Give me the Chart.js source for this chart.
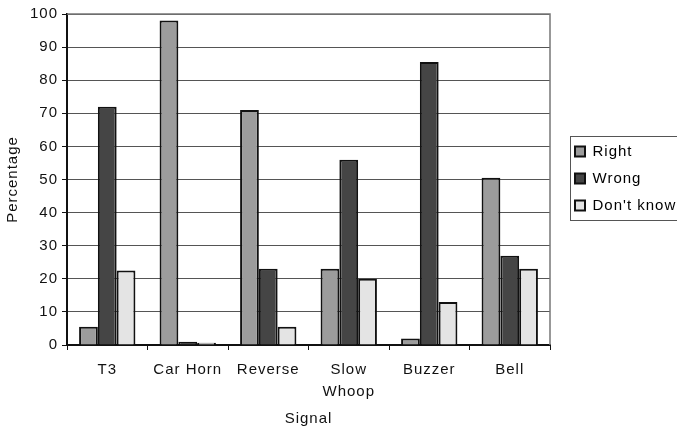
<!DOCTYPE html>
<html>
<head>
<meta charset="utf-8">
<script src="https://cdn.jsdelivr.net/npm/chart.js@4/dist/chart.umd.min.js"></script>
<style>
html,body{margin:0;padding:0;background:#fff;}
#c{display:block;}
</style>
</head>
<body>
<canvas id="c" width="677" height="433"></canvas>
<script>
const categories = ['T3', 'Car Horn', 'Reverse', ['Slow', 'Whoop'], 'Buzzer', 'Bell'];
const seriesNames = ['Right', 'Wrong', "Don't know"];
const rightValues = [5.5, 98, 71, 23, 2, 50.5];
const wrongValues = [72, 1, 23, 56, 85.5, 27];
const dontKnowValues = [22.5, 0.7, 5.5, 20, 13, 23];
const yTicks = [0, 10, 20, 30, 40, 50, 60, 70, 80, 90, 100];

const FONT = 'Liberation Sans, Arial, sans-serif';

const spacing = {
  id: 'spacing',
  beforeUpdate(chart) { chart.ctx.letterSpacing = '1px'; },
  beforeDraw(chart) { chart.ctx.letterSpacing = '1px'; }
};

const legendPlace = {
  id: 'legendPlace',
  beforeLayout(chart) {
    const lg = chart.legend;
    if (lg && !lg.__wrapped) {
      const orig = lg.fit;
      lg.fit = function () { orig.call(this); this.width = 127; };
      lg.__wrapped = true;
    }
  },
  afterLayout(chart) {
    const lg = chart.legend;
    if (!lg) return;
    lg.left = 563; lg.right = 677; lg.width = 114;
    lg.top = 132; lg.bottom = 433; lg.height = 301;
  }
};

const frame = {
  id: 'frame',
  afterDatasetsDraw(chart) {
    const {ctx, chartArea: a} = chart;
    ctx.save();
    ctx.strokeStyle = '#777';
    ctx.lineWidth = 1.5;
    ctx.beginPath();
    ctx.moveTo(a.left, a.top);
    ctx.lineTo(a.right, a.top);
    ctx.lineTo(a.right, a.bottom);
    ctx.stroke();
    ctx.restore();
  },
  afterDraw(chart) {
    const lg = chart.legend;
    if (!lg) return;
    const ctx = chart.ctx;
    ctx.save();
    ctx.strokeStyle = '#555';
    ctx.lineWidth = 1;
    ctx.strokeRect(lg.left + 7.5, 136.5, 200, 84);
    ctx.restore();
  }
};

new Chart(document.getElementById('c'), {
  type: 'bar',
  data: {
    labels: categories,
    datasets: [
      {label: seriesNames[0], data: rightValues, backgroundColor: '#9c9c9c', borderColor: '#111', borderWidth: 2},
      {label: seriesNames[1], data: wrongValues, backgroundColor: '#454545', borderColor: '#111', borderWidth: 2},
      {label: seriesNames[2], data: dontKnowValues, backgroundColor: '#e4e4e4', borderColor: '#111', borderWidth: 2}
    ]
  },
  options: {
    responsive: false,
    animation: false,
    devicePixelRatio: 1,
    layout: {padding: {top: 14, right: 0, bottom: 5, left: 4}},
    datasets: {bar: {categoryPercentage: 0.7, barPercentage: 1.0}},
    plugins: {
      tooltip: {enabled: false},
      legend: {
        position: 'right',
        align: 'start',
        labels: {
          color: '#111',
          font: {family: FONT, size: 15},
          boxWidth: 10,
          boxHeight: 10,
          padding: 12,
          generateLabels(chart) {
            return chart.data.datasets.map((ds, i) => ({
              text: ds.label, fillStyle: ds.backgroundColor, strokeStyle: '#111', lineWidth: 2, datasetIndex: i, hidden: false
            }));
          }
        }
      }
    },
    scales: {
      x: {
        grid: {display: true, drawOnChartArea: false, drawTicks: true, tickLength: 5, color: '#111', offset: true},
        border: {display: true, color: '#111', width: 2},
        ticks: {color: '#111', font: {family: FONT, size: 15, lineHeight: 1.45}, padding: 9, maxRotation: 0, autoSkip: false},
        title: {display: true, text: 'Signal', color: '#111', font: {family: FONT, size: 15}, padding: {top: 4, bottom: 0}},
        afterFit(s) { s.height = 83; }
      },
      y: {
        min: 0, max: 100,
        afterBuildTicks(s) { s.ticks = yTicks.map(v => ({value: v})); },
        grid: {color: '#555', lineWidth: 1, drawTicks: true, tickLength: 5, tickColor: '#111'},
        border: {display: true, color: '#111', width: 2},
        ticks: {color: '#111', font: {family: FONT, size: 15}, padding: 4},
        title: {display: true, text: 'Percentage', color: '#111', font: {family: FONT, size: 15}, padding: {top: 0, bottom: 6}},
        afterFit(s) { s.width = 63; }
      }
    }
  },
  plugins: [spacing, legendPlace, frame]
});
</script>
</body>
</html>
